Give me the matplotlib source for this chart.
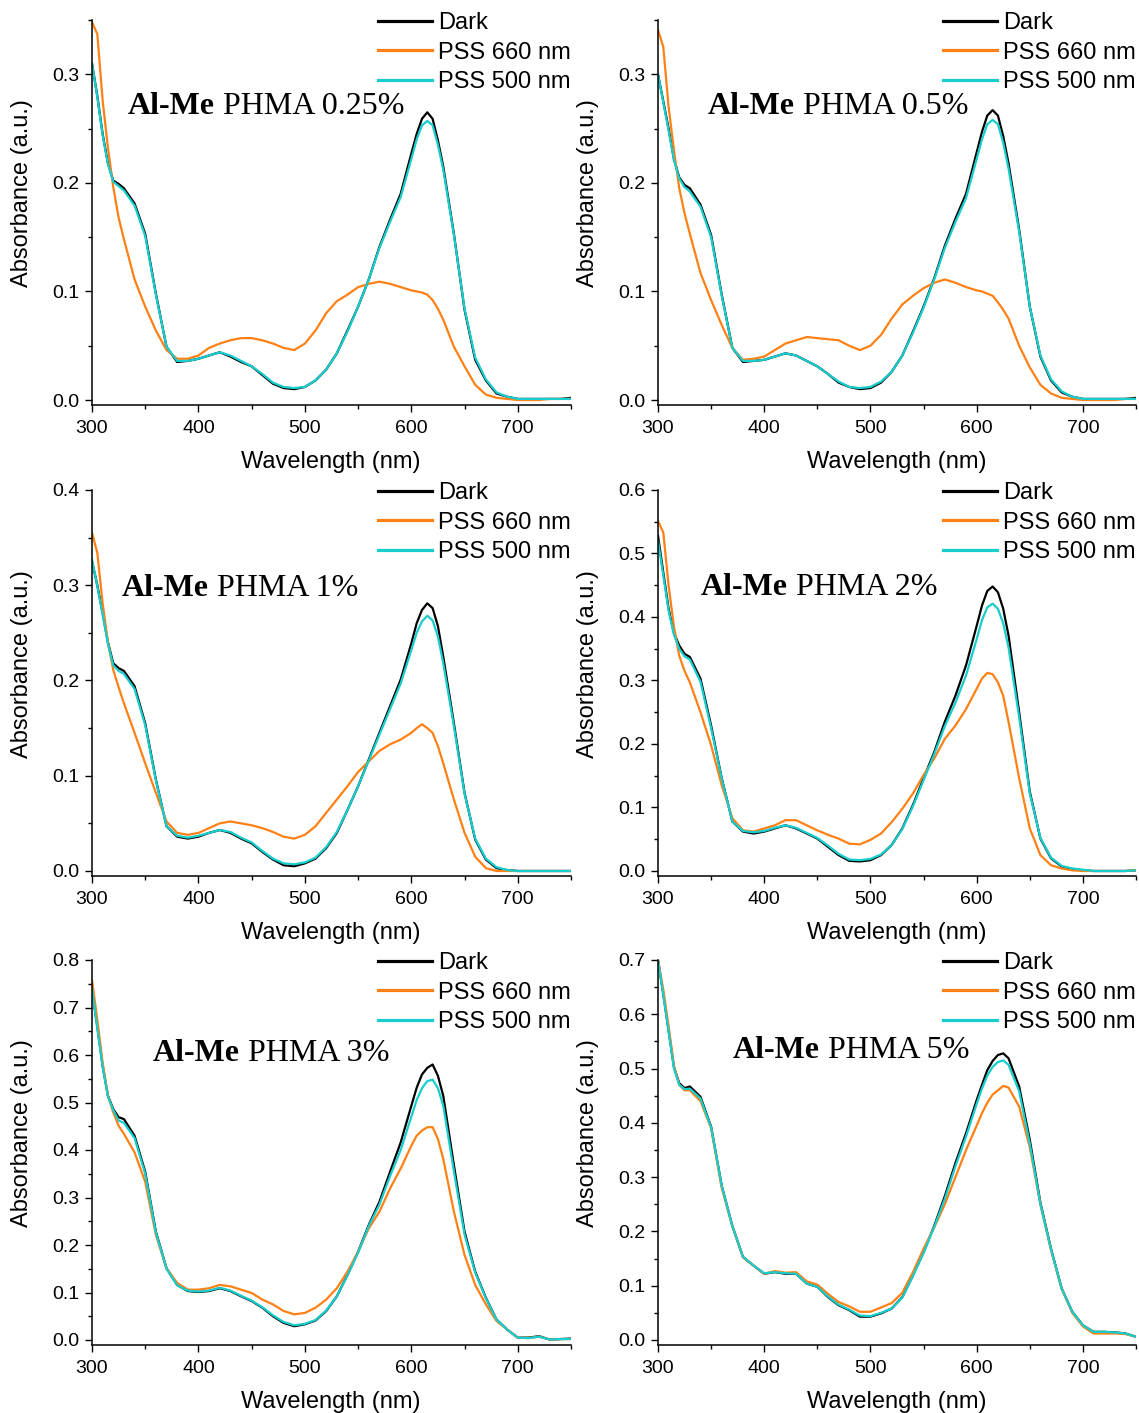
import matplotlib
matplotlib.use('Agg')
import matplotlib.pyplot as plt
from matplotlib.ticker import MultipleLocator

plt.rcParams['font.family'] = ['Liberation Sans', 'DejaVu Sans']

wavelength = [300, 305, 310, 315, 320, 325, 330, 340, 350, 360, 370, 380, 390, 400,
              410, 420, 430, 440, 450, 460, 470, 480, 490, 500, 510, 520, 530, 540,
              550, 560, 570, 580, 590, 600, 605, 610, 615, 620, 625, 630, 640, 650,
              660, 670, 680, 690, 700, 710, 720, 730, 740, 750]

series_names = ["Dark", "PSS 660 nm", "PSS 500 nm"]
titles = ["0.25%", "0.5%", "1%", "2%", "3%", "5%"]
y_max = [0.35, 0.35, 0.4, 0.6, 0.8, 0.7]

# Panel 1: PHMA 0.25%
dark_025 = [0.310, 0.280, 0.245, 0.218, 0.202, 0.199, 0.195, 0.181, 0.153, 0.098, 0.049, 0.035, 0.036, 0.038,
            0.041, 0.044, 0.040, 0.035, 0.031, 0.023, 0.015, 0.011, 0.010, 0.012, 0.018, 0.028, 0.043, 0.064,
            0.086, 0.111, 0.141, 0.166, 0.190, 0.227, 0.245, 0.259, 0.265, 0.259, 0.239, 0.215, 0.153, 0.083,
            0.037, 0.018, 0.006, 0.003, 0.001, 0.001, 0.001, 0.001, 0.001, 0.002]
pss660_025 = [0.348, 0.337, 0.276, 0.232, 0.196, 0.168, 0.148, 0.111, 0.086, 0.064, 0.046, 0.038, 0.038, 0.041,
              0.048, 0.052, 0.055, 0.057, 0.057, 0.055, 0.052, 0.048, 0.046, 0.052, 0.064, 0.080, 0.091, 0.097,
              0.104, 0.107, 0.109, 0.107, 0.104, 0.101, 0.100, 0.099, 0.097, 0.092, 0.084, 0.074, 0.049, 0.031,
              0.014, 0.005, 0.002, 0.001, 0.000, 0.000, 0.000, 0.001, 0.001, 0.001]
pss500_025 = [0.310, 0.279, 0.244, 0.217, 0.201, 0.197, 0.193, 0.179, 0.151, 0.097, 0.049, 0.036, 0.036, 0.038,
              0.041, 0.044, 0.041, 0.036, 0.031, 0.024, 0.016, 0.012, 0.011, 0.012, 0.018, 0.028, 0.043, 0.063,
              0.086, 0.111, 0.140, 0.164, 0.187, 0.222, 0.240, 0.253, 0.257, 0.253, 0.235, 0.212, 0.152, 0.084,
              0.039, 0.019, 0.007, 0.003, 0.001, 0.001, 0.001, 0.001, 0.001, 0.001]

# Panel 2: PHMA 0.5%
dark_05 = [0.300, 0.275, 0.250, 0.222, 0.205, 0.198, 0.195, 0.180, 0.152, 0.097, 0.048, 0.035, 0.036, 0.037,
           0.040, 0.043, 0.041, 0.036, 0.031, 0.024, 0.016, 0.012, 0.010, 0.011, 0.016, 0.026, 0.041, 0.063,
           0.086, 0.112, 0.142, 0.167, 0.190, 0.228, 0.247, 0.262, 0.267, 0.262, 0.243, 0.218, 0.157, 0.086,
           0.040, 0.018, 0.007, 0.003, 0.001, 0.001, 0.001, 0.001, 0.001, 0.002]
pss660_05 = [0.341, 0.325, 0.270, 0.230, 0.195, 0.172, 0.153, 0.117, 0.092, 0.069, 0.048, 0.037, 0.038, 0.040,
             0.046, 0.052, 0.055, 0.058, 0.057, 0.056, 0.055, 0.050, 0.046, 0.050, 0.060, 0.075, 0.088, 0.096,
             0.103, 0.108, 0.111, 0.108, 0.104, 0.101, 0.100, 0.098, 0.096, 0.090, 0.083, 0.075, 0.050, 0.030,
             0.014, 0.006, 0.002, 0.001, 0.000, 0.000, 0.000, 0.000, 0.001, 0.001]
pss500_05 = [0.300, 0.274, 0.248, 0.221, 0.204, 0.196, 0.192, 0.178, 0.150, 0.096, 0.048, 0.036, 0.036, 0.037,
             0.040, 0.043, 0.041, 0.036, 0.031, 0.024, 0.017, 0.012, 0.011, 0.012, 0.017, 0.026, 0.041, 0.062,
             0.085, 0.111, 0.140, 0.164, 0.186, 0.222, 0.240, 0.254, 0.258, 0.254, 0.237, 0.213, 0.155, 0.086,
             0.041, 0.019, 0.008, 0.003, 0.001, 0.001, 0.001, 0.001, 0.001, 0.001]

# Panel 3: PHMA 1%
dark_1 = [0.325, 0.300, 0.271, 0.240, 0.218, 0.213, 0.210, 0.194, 0.155, 0.096, 0.047, 0.036, 0.034, 0.036,
          0.040, 0.043, 0.040, 0.034, 0.029, 0.020, 0.012, 0.006, 0.005, 0.008, 0.013, 0.024, 0.040, 0.064,
          0.089, 0.117, 0.145, 0.173, 0.201, 0.239, 0.260, 0.274, 0.281, 0.276, 0.257, 0.225, 0.155, 0.082,
          0.033, 0.012, 0.003, 0.001, 0.000, 0.000, 0.000, 0.000, 0.000, 0.000]
pss660_1 = [0.355, 0.334, 0.281, 0.240, 0.211, 0.193, 0.176, 0.145, 0.113, 0.082, 0.052, 0.040, 0.038, 0.040,
            0.045, 0.050, 0.052, 0.050, 0.048, 0.045, 0.041, 0.036, 0.034, 0.038, 0.047, 0.061, 0.075, 0.089,
            0.104, 0.115, 0.126, 0.133, 0.138, 0.145, 0.150, 0.154, 0.150, 0.145, 0.131, 0.113, 0.075, 0.040,
            0.015, 0.003, 0.000, 0.000, 0.000, 0.000, 0.000, 0.000, 0.000, 0.000]
pss500_1 = [0.327, 0.299, 0.269, 0.238, 0.216, 0.210, 0.207, 0.191, 0.153, 0.095, 0.047, 0.037, 0.035, 0.037,
            0.040, 0.043, 0.041, 0.035, 0.030, 0.021, 0.013, 0.008, 0.007, 0.009, 0.014, 0.025, 0.041, 0.064,
            0.089, 0.116, 0.143, 0.170, 0.197, 0.232, 0.250, 0.262, 0.268, 0.263, 0.246, 0.218, 0.152, 0.081,
            0.034, 0.013, 0.004, 0.001, 0.000, 0.000, 0.000, 0.000, 0.000, 0.000]

# Panel 4: PHMA 2%
dark_2 = [0.528, 0.470, 0.413, 0.375, 0.355, 0.342, 0.337, 0.303, 0.229, 0.146, 0.078, 0.062, 0.059, 0.062,
          0.067, 0.072, 0.067, 0.059, 0.051, 0.038, 0.025, 0.016, 0.015, 0.017, 0.025, 0.041, 0.067, 0.104,
          0.146, 0.187, 0.235, 0.276, 0.324, 0.386, 0.418, 0.441, 0.448, 0.439, 0.413, 0.371, 0.250, 0.125,
          0.051, 0.020, 0.007, 0.003, 0.001, 0.000, 0.000, 0.000, 0.000, 0.001]
pss660_2 = [0.551, 0.533, 0.449, 0.385, 0.339, 0.315, 0.297, 0.250, 0.198, 0.135, 0.083, 0.064, 0.062, 0.067,
            0.072, 0.080, 0.080, 0.072, 0.064, 0.057, 0.051, 0.043, 0.042, 0.049, 0.059, 0.077, 0.098, 0.122,
            0.151, 0.177, 0.208, 0.229, 0.255, 0.287, 0.303, 0.312, 0.310, 0.297, 0.276, 0.235, 0.146, 0.067,
            0.025, 0.009, 0.004, 0.001, 0.000, 0.000, 0.000, 0.000, 0.000, 0.001]
pss500_2 = [0.520, 0.465, 0.410, 0.372, 0.350, 0.338, 0.333, 0.298, 0.225, 0.145, 0.078, 0.063, 0.061, 0.063,
            0.068, 0.072, 0.068, 0.060, 0.052, 0.040, 0.027, 0.018, 0.017, 0.019, 0.026, 0.041, 0.066, 0.102,
            0.143, 0.184, 0.228, 0.265, 0.308, 0.365, 0.395, 0.415, 0.421, 0.413, 0.390, 0.352, 0.242, 0.122,
            0.052, 0.021, 0.008, 0.004, 0.002, 0.000, 0.000, 0.000, 0.000, 0.001]

# Panel 5: PHMA 3%
dark_3 = [0.737, 0.660, 0.577, 0.514, 0.486, 0.469, 0.465, 0.430, 0.354, 0.228, 0.151, 0.116, 0.103, 0.101,
          0.103, 0.109, 0.103, 0.092, 0.082, 0.068, 0.050, 0.036, 0.029, 0.033, 0.041, 0.061, 0.092, 0.137,
          0.186, 0.242, 0.291, 0.354, 0.416, 0.493, 0.531, 0.559, 0.573, 0.580, 0.556, 0.514, 0.368, 0.228,
          0.144, 0.089, 0.043, 0.022, 0.005, 0.005, 0.008, 0.001, 0.002, 0.003]
pss660_3 = [0.758, 0.674, 0.584, 0.514, 0.479, 0.451, 0.434, 0.395, 0.333, 0.221, 0.151, 0.120, 0.106, 0.106,
            0.109, 0.116, 0.113, 0.106, 0.099, 0.085, 0.075, 0.061, 0.054, 0.057, 0.068, 0.085, 0.109, 0.144,
            0.186, 0.235, 0.270, 0.319, 0.361, 0.409, 0.430, 0.441, 0.448, 0.448, 0.423, 0.381, 0.270, 0.179,
            0.116, 0.075, 0.040, 0.022, 0.005, 0.004, 0.007, 0.001, 0.002, 0.002]
pss500_3 = [0.740, 0.655, 0.575, 0.512, 0.484, 0.462, 0.457, 0.425, 0.350, 0.226, 0.150, 0.115, 0.104, 0.102,
            0.104, 0.110, 0.104, 0.093, 0.083, 0.069, 0.052, 0.038, 0.031, 0.034, 0.042, 0.062, 0.092, 0.136,
            0.184, 0.240, 0.285, 0.345, 0.400, 0.470, 0.505, 0.530, 0.545, 0.548, 0.530, 0.493, 0.355, 0.222,
            0.142, 0.088, 0.043, 0.022, 0.005, 0.004, 0.007, 0.001, 0.002, 0.002]

# Panel 6: PHMA 5%
dark_5 = [0.700, 0.637, 0.570, 0.503, 0.473, 0.464, 0.467, 0.448, 0.393, 0.284, 0.210, 0.153, 0.137, 0.122,
          0.125, 0.122, 0.122, 0.104, 0.098, 0.079, 0.064, 0.055, 0.043, 0.043, 0.049, 0.058, 0.079, 0.119,
          0.162, 0.210, 0.265, 0.326, 0.381, 0.442, 0.470, 0.497, 0.514, 0.525, 0.528, 0.519, 0.467, 0.369,
          0.253, 0.168, 0.095, 0.052, 0.027, 0.015, 0.015, 0.014, 0.012, 0.006]
pss660_5 = [0.700, 0.645, 0.578, 0.505, 0.470, 0.460, 0.460, 0.440, 0.390, 0.280, 0.210, 0.152, 0.137, 0.122,
            0.127, 0.124, 0.125, 0.108, 0.102, 0.085, 0.070, 0.062, 0.052, 0.052, 0.060, 0.068, 0.087, 0.125,
            0.168, 0.207, 0.250, 0.300, 0.350, 0.395, 0.418, 0.437, 0.452, 0.460, 0.468, 0.465, 0.430, 0.355,
            0.250, 0.165, 0.095, 0.050, 0.025, 0.012, 0.012, 0.012, 0.011, 0.006]
pss500_5 = [0.700, 0.635, 0.568, 0.500, 0.470, 0.462, 0.463, 0.445, 0.392, 0.284, 0.210, 0.153, 0.137, 0.123,
            0.125, 0.123, 0.122, 0.104, 0.098, 0.080, 0.065, 0.056, 0.045, 0.044, 0.050, 0.058, 0.078, 0.118,
            0.160, 0.208, 0.260, 0.320, 0.375, 0.435, 0.463, 0.487, 0.503, 0.512, 0.515, 0.507, 0.458, 0.362,
            0.250, 0.167, 0.095, 0.052, 0.027, 0.015, 0.015, 0.014, 0.012, 0.006]

panels = [
    (dark_025, pss660_025, pss500_025),
    (dark_05, pss660_05, pss500_05),
    (dark_1, pss660_1, pss500_1),
    (dark_2, pss660_2, pss500_2),
    (dark_3, pss660_3, pss500_3),
    (dark_5, pss660_5, pss500_5),
]

colors = ['#000000', '#FF8014', '#17CDCD']

fig = plt.figure(figsize=(11.39, 14.13), dpi=100)
W, H = 1139.0, 1413.0
col_px = [(92, 571), (658, 1136)]
row_px = [(20, 405), (490, 876), (960, 1345)]
label_pos = [(0.075, 0.775), (0.105, 0.775), (0.063, 0.745),
             (0.090, 0.747), (0.127, 0.757), (0.157, 0.765)]

for i, data in enumerate(panels):
    r, c = divmod(i, 2)
    x0, x1 = col_px[c]
    t0, t1 = row_px[r]
    ax = fig.add_axes([x0 / W, (H - t1) / H, (x1 - x0) / W, (t1 - t0) / H])
    for vals, name, col in zip(data, series_names, colors):
        ax.plot(wavelength, vals, color=col, lw=1.6, label=name)
    ax.set_xlim(300, 750)
    ym = y_max[i]
    ax.set_ylim(-ym * 5 / 380, ym)
    ax.xaxis.set_major_locator(MultipleLocator(100))
    ax.xaxis.set_minor_locator(MultipleLocator(50))
    ax.yaxis.set_major_locator(MultipleLocator(0.1))
    ax.yaxis.set_minor_locator(MultipleLocator(0.05))
    ax.yaxis.set_major_formatter(plt.FormatStrFormatter('%.1f'))
    for s in ['top', 'right']:
        ax.spines[s].set_visible(False)
    for s in ['left', 'bottom']:
        ax.spines[s].set_linewidth(1.1)
    ax.tick_params(which='major', direction='out', length=5, width=1.0, labelsize=14)
    ax.tick_params(axis='x', which='major', pad=6)
    ax.tick_params(axis='y', which='major', pad=4)
    ax.tick_params(which='minor', direction='out', length=3, width=1.0)
    xl = ax.set_xlabel('Wavelength (nm)', fontsize=17)
    yl = ax.set_ylabel('Absorbance (a.u.)', fontsize=17)
    ax.xaxis.set_label_coords(0.499, -0.148)
    ax.yaxis.set_label_coords(-0.146, 0.55)
    xl.set_va('center')
    yl.set_va('center')
    leg = ax.legend(loc='upper right', bbox_to_anchor=(1.0, 1.02), frameon=False, fontsize=17,
                    handlelength=2.3, handletextpad=0.25, labelspacing=0.31, borderpad=0,
                    borderaxespad=0)
    for ln in leg.get_lines():
        ln.set_linewidth(2.3)
    lx, ly = label_pos[i]
    tb = ax.text(lx, ly, 'Al-Me', transform=ax.transAxes, fontsize=23,
                 family='Liberation Serif', weight='bold', ha='left', va='center')
    ax.annotate(' PHMA ' + titles[i], xy=(1, 0), xycoords=tb, fontsize=23,
                family='Liberation Serif', ha='left', va='bottom')

fig.savefig('out.png', dpi=100)
